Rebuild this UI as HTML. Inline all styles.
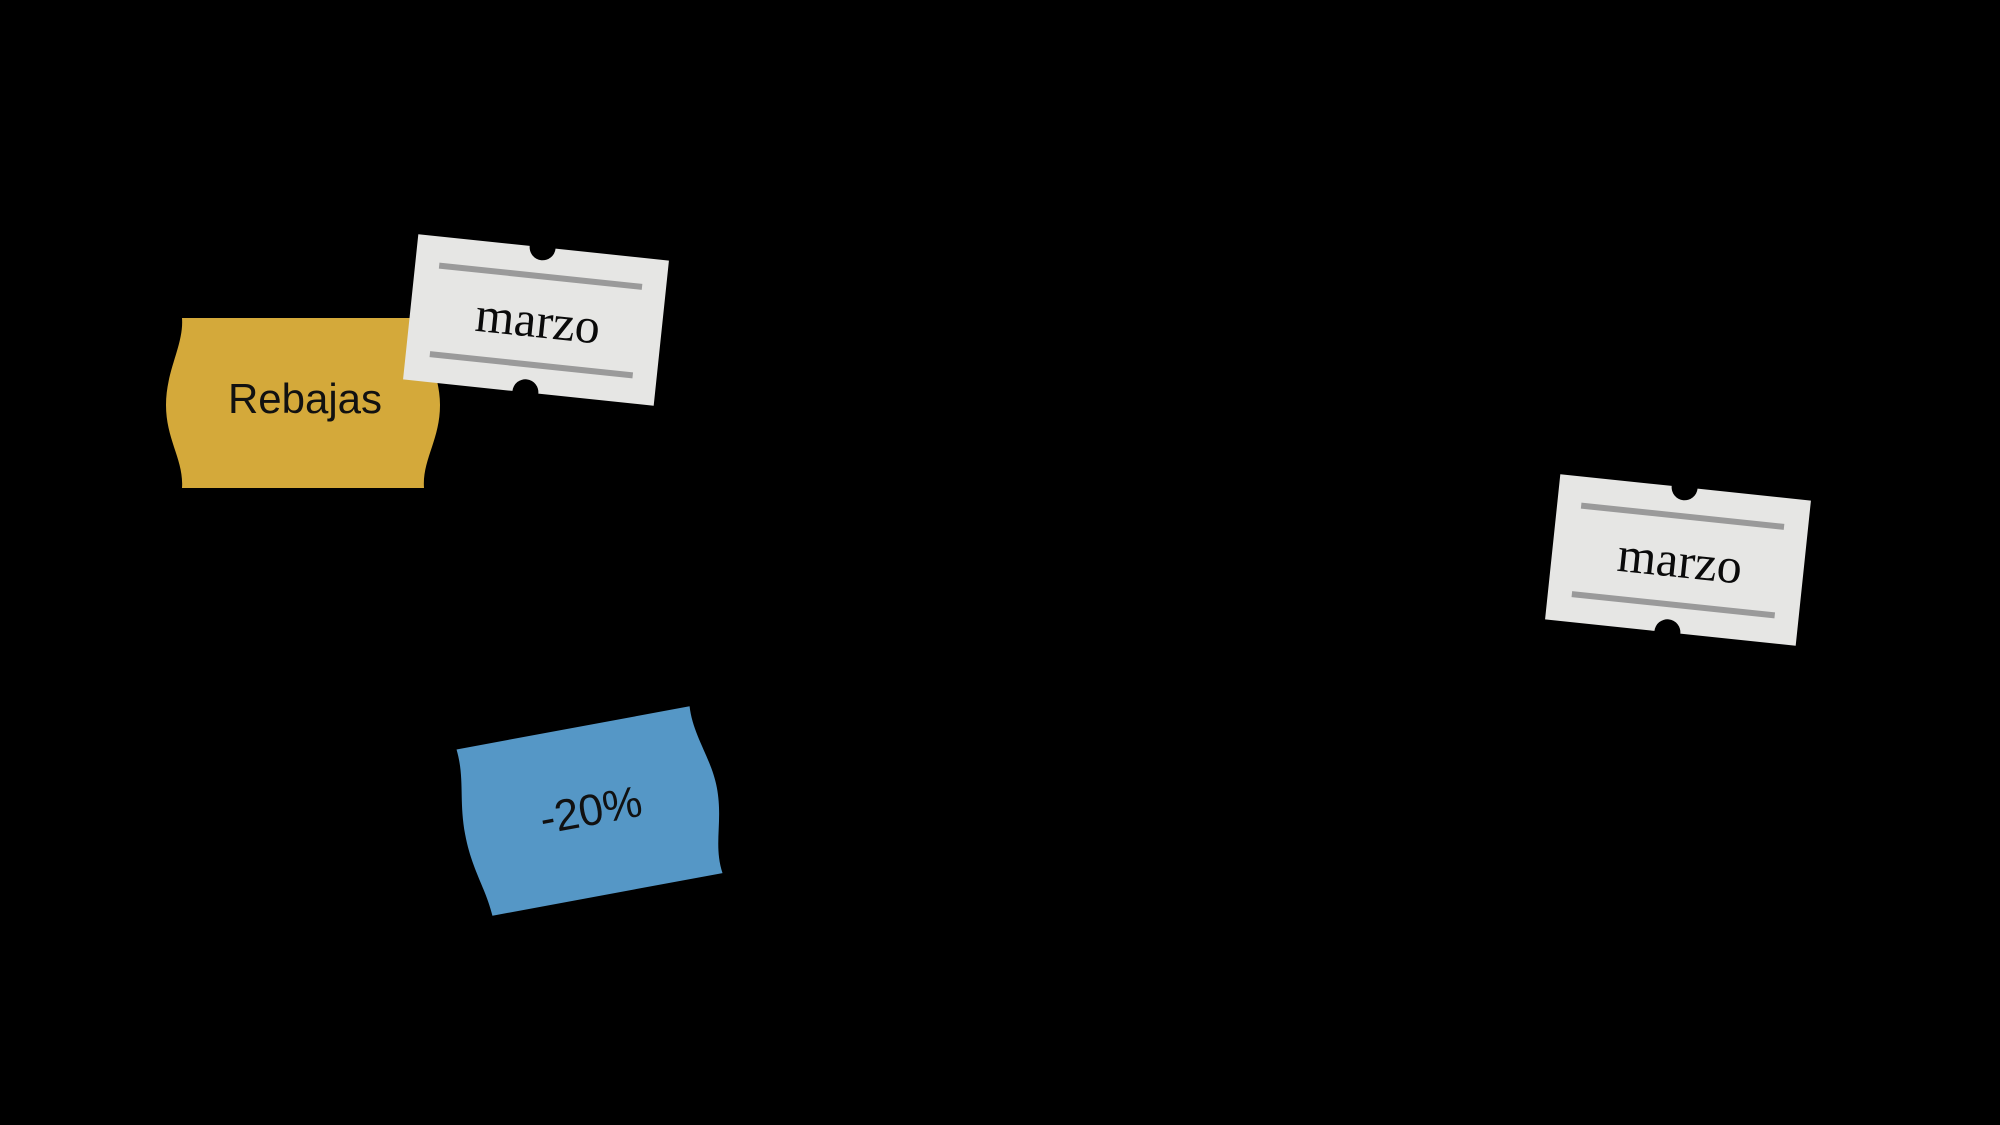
<!DOCTYPE html>
<html><head><meta charset="utf-8"><style>
html,body{margin:0;padding:0;background:#000;width:2000px;height:1125px;overflow:hidden}
svg{display:block}
</style></head><body>
<svg width="2000" height="1125" viewBox="0 0 2000 1125" xmlns="http://www.w3.org/2000/svg">
<rect width="2000" height="1125" fill="#000"/>
<defs>
<g id="wtag">
  <path d="M-126,-73 L-14,-73 A13,13 0 0 0 12,-73 L126,-73 L126,73 L10,73 A13,13 0 0 0 -16,73 L-126,73 Z" fill="#e6e6e4"/>
  <rect x="-102" y="-47" width="204" height="6" fill="#9a9a9a"/>
  <rect x="-102" y="42" width="204" height="6" fill="#9a9a9a"/>
</g>
</defs>
<!-- yellow -->
<path d="M182,318 L426,318 C424,350 440,375 440,405 C440,440 422,460 424,488 L182,488 C184,460 166,440 166,405 C166,370 184,345 182,318 Z" fill="#d4a93a"/>
<text x="305" y="413" font-family="Liberation Sans, sans-serif" font-size="42" text-anchor="middle" fill="#111">Rebajas</text>
<!-- white 1 -->
<g transform="translate(536,320) rotate(6)">
  <use href="#wtag"/>
  <text x="2" y="17" font-family="Liberation Serif, serif" font-size="50" text-anchor="middle" fill="#0a0a0a">marzo</text>
</g>
<!-- white 2 -->
<g transform="translate(1678,560) rotate(6)">
  <use href="#wtag"/>
  <text x="2" y="17" font-family="Liberation Serif, serif" font-size="50" text-anchor="middle" fill="#0a0a0a">marzo</text>
</g>
<!-- blue -->
<g transform="translate(591,811) rotate(-10.5)">
  <path d="M-121,-85 L116,-85 C114,-55 128,-30 128,0 C128,35 114,55 118,85 L-116,85 C-118,55 -128,35 -128,0 C-128,-35 -118,-55 -121,-85 Z" fill="#5597c6"/>
  <text x="0" y="14" font-family="Liberation Sans, sans-serif" font-size="44" text-anchor="middle" fill="#111">-20%</text>
</g>
</svg>
</body></html>
